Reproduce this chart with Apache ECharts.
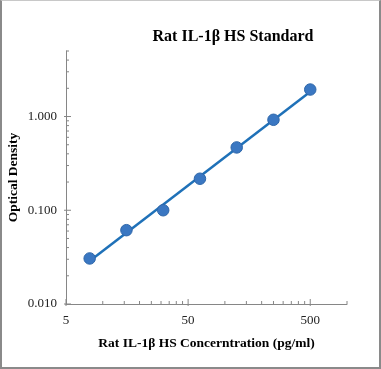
<!DOCTYPE html>
<html>
<head>
<meta charset="utf-8">
<script src="https://cdn.jsdelivr.net/npm/echarts@6/dist/echarts.min.js"></script>
<style>
  html, body { margin: 0; padding: 0; background: #fff; }
  #frame { position: absolute; left: 0; top: 0; width: 381px; height: 369px; box-sizing: border-box;
           border-left: 2px solid #8a8a8a; border-right: 2px solid #8a8a8a; border-bottom: 2px solid #8a8a8a; border-top: 1px solid #c8c8c8; }
  #chart { position: absolute; left: 0; top: 0; width: 381px; height: 369px; }
</style>
</head>
<body>
<div id="chart"></div>
<div id="frame"></div>
<script>
// ---- data ----
const concentrations = [7.8125, 15.625, 31.25, 62.5, 125, 250, 500];   // pg/ml
const opticalDensity = [0.0306, 0.0613, 0.100, 0.217, 0.468, 0.923, 1.94];
const xTickLabels = ['5', '50', '500'];
const yTickLabels = ['0.010', '0.100', '1.000'];
const xMin = 5, xMax = 1000;      // log axis range
const yMin = 0.01, yMax = 5;

const FONT = "'Liberation Serif', 'Times New Roman', serif";
const AXIS = '#868686';

// log transforms (axis min = 0, interval = 1 decade)
const tx = v => Math.log10(v / xMin);
const ty = v => Math.log10(v / yMin);

// power-law fit (log-log linear regression) for trend line
const lx = concentrations.map(Math.log10), ly = opticalDensity.map(Math.log10);
const n = lx.length;
const mx = lx.reduce((a, b) => a + b, 0) / n, my = ly.reduce((a, b) => a + b, 0) / n;
let sxy = 0, sxx = 0;
for (let i = 0; i < n; i++) { sxy += (lx[i] - mx) * (ly[i] - my); sxx += (lx[i] - mx) ** 2; }
const slope = sxy / sxx, icpt = my - slope * mx;
const fit = x => Math.pow(10, icpt + slope * Math.log10(x));
const xFirst = concentrations[0], xLast = concentrations[n - 1];
const fitLine = [[tx(xFirst), ty(fit(xFirst))], [tx(xLast), ty(fit(xLast))]];

// Excel-style tick marks (major at each decade from min, minor at k * decade start)
const xTicks = [], yTicks = [];
for (let d = xMin; d < xMax; d *= 10) {
  xTicks.push([tx(d), 1]);
  for (let k = 2; k <= 9; k++) { const v = d * k; if (v <= xMax + 1e-9) xTicks.push([tx(v), 0]); }
}
for (let d = yMin; d < yMax; d *= 10) {
  yTicks.push([ty(d), 1]);
  for (let k = 2; k <= 9; k++) { const v = d * k; if (v <= yMax * 1.0001) yTicks.push([ty(v), 0]); }
}

const chart = echarts.init(document.getElementById('chart'), null, { renderer: 'canvas' });

const XMAXT = tx(xMax), YMAXT = ty(yMax);

function tickRender(isX) {
  return function (params, api) {
    const v = api.value(0), major = api.value(1);
    const p = isX ? api.coord([v, 0]) : api.coord([0, v]);
    let shape;
    if (isX) {
      shape = major ? { x1: p[0], y1: p[1] + 2, x2: p[0], y2: p[1] - 5 } : { x1: p[0], y1: p[1], x2: p[0], y2: p[1] - 3 };
    } else {
      shape = major ? { x1: p[0] - 2, y1: p[1], x2: p[0] + 5, y2: p[1] } : { x1: p[0], y1: p[1], x2: p[0] + 3, y2: p[1] };
    }
    return { type: 'line', shape: shape, style: { stroke: AXIS, lineWidth: 1 } };
  };
}

chart.setOption({
  animation: false,
  backgroundColor: '#fff',
  title: {
    text: 'Rat IL-1β HS Standard',
    left: 228, top: 24, textAlign: 'center',
    textStyle: { fontFamily: FONT, fontSize: 16, fontWeight: 'bold', color: '#000' }
  },
  grid: { left: 66, right: 34, top: 51, bottom: 65, containLabel: false, outerBoundsMode: 'none' },
  xAxis: {
    type: 'value', min: 0, max: XMAXT, interval: 1,
    name: 'Rat IL-1β HS Concerntration (pg/ml)', nameLocation: 'middle', nameGap: 33,
    nameMoveOverlap: false,
    nameTextStyle: { fontFamily: FONT, fontSize: 13.5, fontWeight: 'bold', color: '#000' },
    axisLine: { lineStyle: { color: AXIS, width: 1 } },
    axisTick: { show: false },
    splitLine: { show: false },
    axisLabel: {
      showMaxLabel: false, margin: 10,
      fontFamily: FONT, fontSize: 13, color: '#222',
      formatter: v => xTickLabels[Math.round(v)] ?? ''
    }
  },
  yAxis: {
    type: 'value', min: 0, max: YMAXT, interval: 1,
    name: 'Optical Density', nameLocation: 'middle', nameGap: 45,
    nameMoveOverlap: false,
    nameTextStyle: { fontFamily: FONT, fontSize: 13.5, fontWeight: 'bold', color: '#000' },
    axisLine: { show: true, lineStyle: { color: AXIS, width: 1 } },
    axisTick: { show: false },
    splitLine: { show: false },
    axisLabel: {
      showMaxLabel: false, margin: 9,
      fontFamily: FONT, fontSize: 13, color: '#222',
      formatter: v => yTickLabels[Math.round(v)] ?? ''
    }
  },
  series: [
    { type: 'custom', renderItem: tickRender(true), data: xTicks, clip: false, silent: true, z: 1 },
    { type: 'custom', renderItem: tickRender(false), data: yTicks, clip: false, silent: true, z: 1 },
    {
      type: 'line', data: fitLine, symbol: 'none', z: 2,
      lineStyle: { color: '#1F71B8', width: 2.5 }
    },
    {
      type: 'scatter', z: 3,
      data: concentrations.map((c, i) => [tx(c), ty(opticalDensity[i])]),
      symbol: 'circle', symbolSize: 11.5,
      itemStyle: { color: '#3A77C2', borderColor: '#2E67AA', borderWidth: 1, opacity: 1 }
    }
  ]
});
</script>
</body>
</html>
